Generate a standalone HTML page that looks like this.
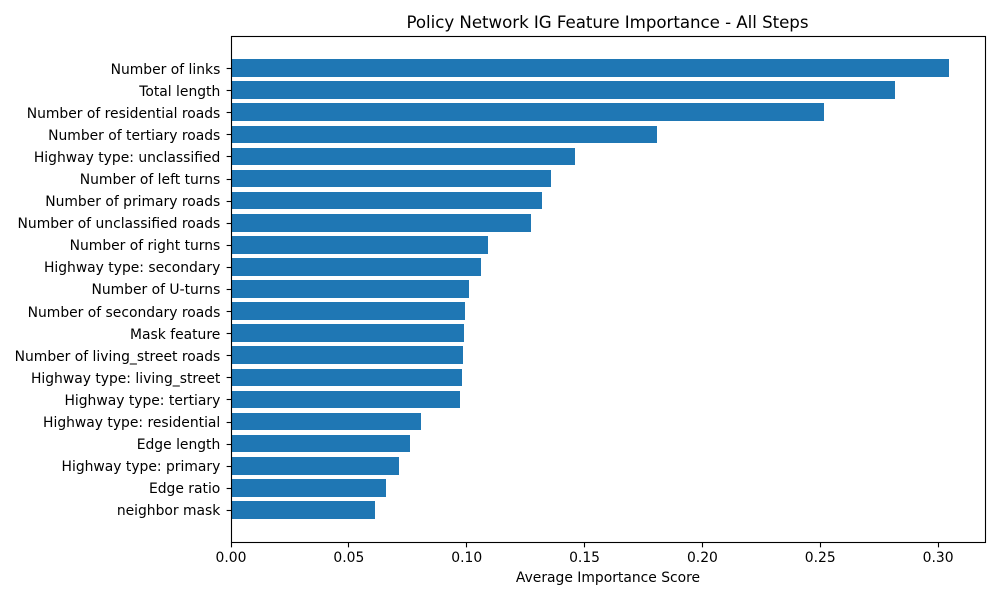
<!DOCTYPE html>
<html lang="en">
<head>
<meta charset="utf-8">
<title>Policy Network IG Feature Importance - All Steps</title>
<style>
html,body{margin:0;padding:0;background:#fff}
svg{display:block}
text{font-family:"DejaVu Sans",sans-serif;fill:#000}
</style>
</head>
<body>
<svg id="chart" xmlns="http://www.w3.org/2000/svg" width="1000" height="600" viewBox="0 0 1000 600">
<rect x="0" y="0" width="1000" height="600" fill="#fff"/>
<g id="bars"></g>
<g id="y-axis"></g>
<g id="x-axis"></g>
<g id="spines"></g>
<text x="607.5" y="28" text-anchor="middle" font-size="16.67" textLength="402" lengthAdjust="spacing">Policy Network IG Feature Importance - All Steps</text>
<text x="608" y="582" text-anchor="middle" font-size="13.89">Average Importance Score</text>
</svg>
<script>
const categories = ["Number of links","Total length","Number of residential roads","Number of tertiary roads","Highway type: unclassified","Number of left turns","Number of primary roads","Number of unclassified roads","Number of right turns","Highway type: secondary","Number of U-turns","Number of secondary roads","Mask feature","Number of living_street roads","Highway type: living_street","Highway type: tertiary","Highway type: residential","Edge length","Highway type: primary","Edge ratio","neighbor mask"];
const importanceValues = [0.3047,0.2818,0.2517,0.1808,0.146,0.1358,0.132,0.1273,0.1091,0.1061,0.101,0.0992,0.0988,0.0984,0.098,0.0971,0.0806,0.076,0.0713,0.0658,0.061];
const xTickValues = [0,0.05,0.1,0.15,0.2,0.25,0.3];
const xTickLabels = ["0.00","0.05","0.10","0.15","0.20","0.25","0.30"];

const NS = "http://www.w3.org/2000/svg";
const plotLeft = 231, plotRight = 985.1, plotTop = 36.3, plotBottom = 541.7;
const frameTop = 36, frameBottom = 542;
const xMax = Math.max.apply(null, importanceValues) * 1.05;
const yLow = -0.4 - 1.04, yHigh = categories.length - 1 + 0.4 + 1.04;
function xScale(v) { return plotLeft + (v / xMax) * (plotRight - plotLeft); }
function yScale(i) { return plotTop + ((i - yLow) / (yHigh - yLow)) * (plotBottom - plotTop); }
function mk(tag, attrs, parent) {
  const el = document.createElementNS(NS, tag);
  for (const k in attrs) el.setAttribute(k, attrs[k]);
  parent.appendChild(el);
  return el;
}
const barsG = document.getElementById("bars");
const yG = document.getElementById("y-axis");
const xG = document.getElementById("x-axis");
const spinesG = document.getElementById("spines");

categories.forEach(function (name, i) {
  const top = Math.round(yScale(i - 0.4));
  const bottom = Math.round(yScale(i + 0.4));
  const left = Math.round(xScale(0));
  const right = Math.round(xScale(importanceValues[i]));
  const bar = mk("rect", {x: left, y: top, width: right - left, height: bottom - top, fill: "#1f77b4", "shape-rendering": "crispEdges"}, barsG);
  
  
  const ty = Math.round(yScale(i)) + 0.5;
  const tick = mk("line", {x1: plotLeft + 0.5 - 4.86, x2: plotLeft + 0.5, y1: ty, y2: ty, stroke: "#000", "stroke-width": 1.11}, yG);
  
  
  const label = mk("text", {x: plotLeft - 10.7, y: Math.round(yScale(i) + 5.45), "text-anchor": "end", "font-size": 13.89}, yG);
  
  
  label.textContent = name;
});

xTickValues.forEach(function (v, i) {
  const tx = Math.floor(xScale(v)) + 0.5;
  const tick = mk("line", {x1: tx, x2: tx, y1: frameBottom + 0.5, y2: frameBottom + 0.5 + 4.86, stroke: "#000", "stroke-width": 1.11}, xG);
  
  
  const label = mk("text", {x: xScale(v), y: frameBottom + 20, "text-anchor": "middle", "font-size": 13.89}, xG);
  
  
  label.textContent = xTickLabels[i];
});

const frame = mk("rect", {x: Math.floor(plotLeft) + 0.5, y: frameTop + 0.5, width: Math.floor(plotRight) - Math.floor(plotLeft), height: frameBottom - frameTop, fill: "none", stroke: "#000", "stroke-width": 1.11}, spinesG);


</script>
</body>
</html>
